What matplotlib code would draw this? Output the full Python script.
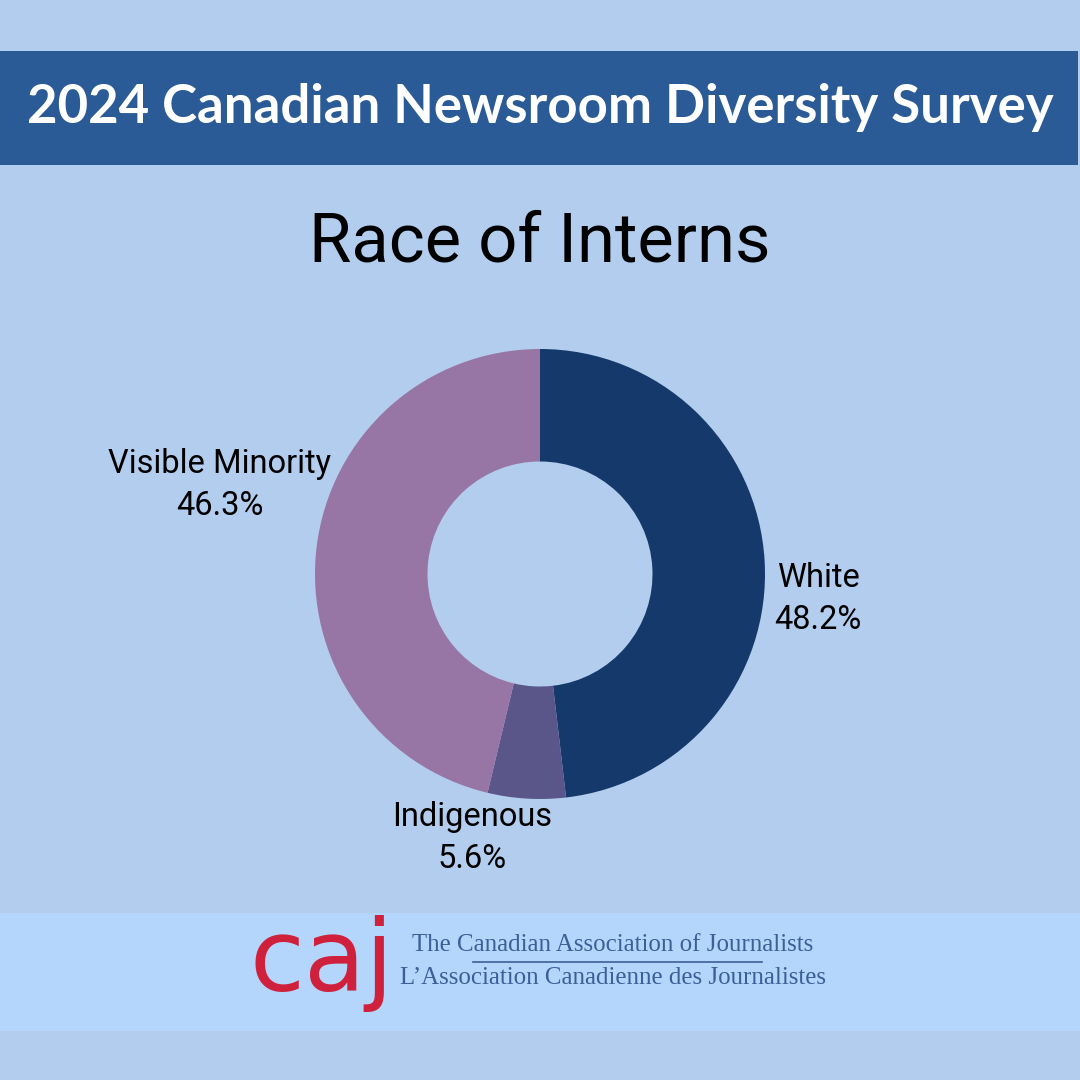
import matplotlib
matplotlib.use('Agg')
import matplotlib.pyplot as plt
from matplotlib.patches import Rectangle

# data
groups = ['White', 'Indigenous', 'Visible Minority']
shares = [48.2, 5.6, 46.3]
colors = ['#14396a', '#5a5689', '#9776a5']

banner_title = '2024 Canadian Newsroom Diversity Survey'
chart_title = 'Race of Interns'
org_en = 'The Canadian Association of Journalists'
org_fr = 'L\u2019Association Canadienne des Journalistes'

W = H = 1080
fig = plt.figure(figsize=(10.8, 10.8), dpi=100)
fig.patch.set_facecolor('#b3cdee')

# background axes in pixel coords (y down)
bg = fig.add_axes([0, 0, 1, 1])
bg.set_xlim(0, W)
bg.set_ylim(H, 0)
bg.axis('off')

bg.add_patch(Rectangle((0, 51), 1078, 114, color='#2a5b96', lw=0))
bg.text(540, 108, banner_title, ha='center', va='center', color='white',
        fontsize=38, fontweight='bold', family='Lato')

bg.text(540, 242, chart_title, ha='center', va='center', color='black',
        fontsize=49.5, family='Roboto')

# logo strip
bg.add_patch(Rectangle((0, 913), W, 118, color='#b4d5fc', lw=0))
bg.text(322, 964, 'caj', ha='center', va='center', color='#d0213c',
        fontsize=72, family='DejaVu Sans')
bg.text(412, 945, org_en, ha='left', va='center', color='#3b6098',
        fontsize=17.9, family='Liberation Serif')
bg.text(400, 978, org_fr, ha='left', va='center', color='#3b6098',
        fontsize=17.9, family='Liberation Serif')
bg.plot([473, 762], [962, 962], color='#3b6098', lw=1.2)

# donut
cx, cy, r = 540, 574, 225
ax = fig.add_axes([(cx - r) / W, 1 - (cy + r) / H, 2 * r / W, 2 * r / H])
ax.pie(shares, colors=colors, startangle=90, counterclock=False,
       wedgeprops=dict(width=0.5, linewidth=0), radius=1)
ax.set_xlim(-1, 1)
ax.set_ylim(-1, 1)
ax.set_aspect('equal')
ax.axis('off')

label_pos = [(818, 599), (472, 838), (220, 485)]
for name, val, (lx, ly) in zip(groups, shares, label_pos):
    bg.text(lx, ly, f'{name}\n{val}%', ha='center', va='center',
            fontsize=23.5, family='Roboto', linespacing=1.37)

fig.savefig('out.png', dpi=100, facecolor=fig.get_facecolor())
